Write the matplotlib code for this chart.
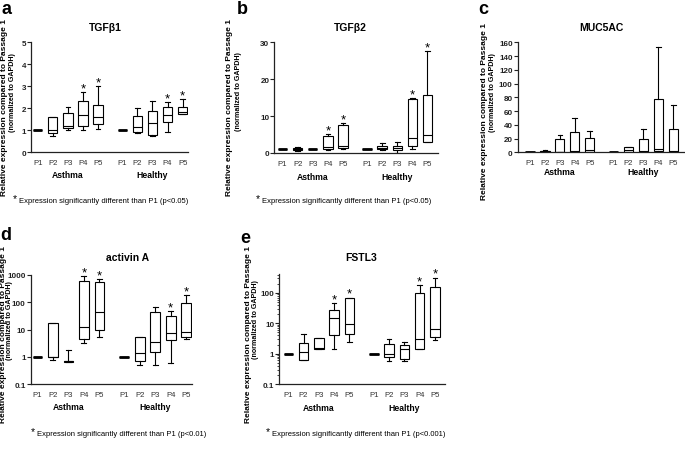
import matplotlib
matplotlib.use("Agg")
import matplotlib.pyplot as plt
from matplotlib.transforms import blended_transform_factory
from matplotlib.ticker import FixedLocator, NullFormatter, LogLocator

plt.rcParams['font.family'] = ['Liberation Sans', 'DejaVu Sans']

W, H = 685, 452

passages = ['P1', 'P2', 'P3', 'P4', 'P5']
groups = ['Asthma', 'Healthy']

# every box: [min, q1, median, q3, max], relative to passage 1
tgfb1_asthma = [[1, 1, 1, 1, 1], [0.72, 0.9, 1.02, 1.62, 1.62], [1.0, 1.09, 1.21, 1.79, 2.08],
                [1.03, 1.21, 1.70, 2.32, 2.73], [1.06, 1.29, 1.59, 2.15, 3.0]]
tgfb1_healthy = [[1, 1, 1, 1, 1], [0.9, 0.91, 1.15, 1.65, 2.0], [0.73, 0.8, 1.33, 1.89, 2.35],
                 [0.94, 1.39, 1.71, 2.08, 2.3], [1.72, 1.74, 1.85, 2.08, 2.41]]

tgfb2_asthma = [[1, 1, 1, 1, 1], [0.5, 0.8, 1.0, 1.3, 1.7], [1, 1, 1, 1, 1],
                [0.7, 1.0, 1.7, 4.7, 5.2], [1.2, 1.35, 1.9, 7.5, 8.0]]
tgfb2_healthy = [[1, 1, 1, 1, 1], [0.8, 1.0, 1.4, 1.9, 2.7], [0.1, 0.8, 1.3, 1.8, 3.05],
                 [1.0, 1.8, 4.1, 14.7, 14.8], [2.9, 3.05, 4.9, 15.7, 27.7]]

muc5ac_asthma = [[1, 1, 1, 1, 1], [0.5, 0.8, 1.2, 2.0, 3.5], [0.2, 0.5, 1.0, 19.4, 25.2],
                 [0.3, 0.5, 1.5, 29.0, 49.5], [0.5, 1.0, 3.9, 20.8, 30.5]]
muc5ac_healthy = [[1, 1, 1, 1, 1], [0.5, 1.0, 3.0, 8.0, 8.2], [0.3, 1.0, 2.0, 19.9, 34.4],
                  [0.5, 1.5, 5.5, 77.6, 152.7], [0.2, 0.5, 1.5, 33.9, 68.8]]

activin_asthma = [[1, 1, 1, 1, 1], [0.75, 0.95, 1.0, 17.5, 17.5], [0.64, 0.66, 0.68, 0.71, 1.75],
                  [3.07, 4.3, 12.2, 603, 946], [5.5, 9.5, 43, 555, 735]]
activin_healthy = [[1, 1, 1, 1, 1], [0.48, 0.71, 1.36, 5.4, 5.4], [0.51, 1.44, 3.5, 44, 69],
                   [0.57, 3.96, 7.5, 30, 48], [4.5, 5.1, 7.8, 96, 189]]

fstl3_asthma = [[1, 1, 1, 1, 1], [0.63, 0.63, 1.16, 2.3, 4.45], [1.4, 1.42, 1.48, 3.35, 3.4],
                [1.46, 4.1, 14.6, 26.8, 46.9], [2.4, 4.45, 9.5, 70, 70]]
fstl3_healthy = [[1, 1, 1, 1, 1], [0.56, 0.8, 0.95, 2.08, 3.05], [0.59, 0.68, 1.46, 1.98, 2.49],
                 [1.42, 1.46, 3.1, 97.5, 183], [2.75, 3.6, 6.3, 158, 320]]

# boxes marked with * (index into the 10 boxes, asthma first)
starred = [3, 4, 8, 9]

footnotes = ['Expression significantly different than P1 (p<0.05)',
             'Expression significantly different than P1 (p<0.05)',
             'Expression significantly different than P1 (p<0.01)',
             'Expression significantly different than P1 (p<0.001)']

fig = plt.figure(figsize=(W / 100, H / 100), dpi=100)


def fx(x):
    return x / W


def fy(y):
    return 1 - y / H


def rect(l, t, r, b):
    return [fx(l), fy(b), (r - l) / W, (b - t) / H]


def panel(box, xlim, asthma, healthy, stars, ylim, yticks, yticklabels, title, title_xy,
          label_y, log=False, minor=False):
    ax = fig.add_axes(box)
    pos = [0, 1, 2, 3, 4, 5.6, 6.6, 7.6, 8.6, 9.6]
    stats = [dict(whislo=s[0], q1=s[1], med=s[2], q3=s[3], whishi=s[4]) for s in asthma + healthy]
    lw = 0.8
    art = ax.bxp(stats, positions=pos, widths=0.62, showfliers=False, patch_artist=True,
                 boxprops=dict(facecolor='white', edgecolor='black', linewidth=lw),
                 medianprops=dict(color='black', linewidth=lw),
                 whiskerprops=dict(color='black', linewidth=lw),
                 capprops=dict(color='black', linewidth=lw))
    for i, s in enumerate(stats):
        if s['q1'] == s['q3']:
            art['medians'][i].set_linewidth(2.0)
    if log:
        ax.set_yscale('log')
    ax.set_ylim(*ylim)
    ax.set_xlim(*xlim)
    ax.set_yticks(yticks)
    ax.set_yticklabels(yticklabels, fontsize=5.8, fontweight='bold')
    if log:
        if minor:
            ax.yaxis.set_minor_locator(LogLocator(base=10, subs=range(2, 10)))
        else:
            ax.yaxis.set_minor_locator(FixedLocator([]))
        ax.yaxis.set_minor_formatter(NullFormatter())
    ax.tick_params(axis='y', which='major', length=2.6, width=0.8, pad=1, colors='#222222')
    ax.tick_params(axis='y', which='minor', length=1.6, width=0.6, colors='#222222')
    ax.set_xticks(pos)
    ax.set_xticklabels(passages * 2, fontsize=5.6, color='#333333')
    ax.xaxis.set_minor_locator(FixedLocator([2, 7.6]))
    ax.tick_params(axis='x', which='major', length=0, pad=5)
    ax.tick_params(axis='x', which='minor', length=3, width=0.8, colors='#222222')
    for sp in ['top', 'right']:
        ax.spines[sp].set_visible(False)
    for sp in ['left', 'bottom']:
        ax.spines[sp].set_linewidth(0.9)
        ax.spines[sp].set_color('#222222')
    for i in stars:
        ax.annotate('*', (pos[i], stats[i]['whishi']), xytext=(0, 0.5), textcoords='offset points',
                    ha='center', va='baseline', fontsize=9.5, annotation_clip=False)
    tr = blended_transform_factory(ax.transData, fig.transFigure)
    ax.text(2, fy(label_y), groups[0], transform=tr, ha='center', va='center',
            fontsize=6.2, fontweight='bold')
    ax.text(7.6, fy(label_y), groups[1], transform=tr, ha='center', va='center',
            fontsize=6.2, fontweight='bold')
    fig.text(fx(title_xy[0]), fy(title_xy[1]), title, ha='center', va='center',
             fontsize=7.5, fontweight='bold')
    return ax


panel(rect(31, 43.3, 188, 153.3), (-0.44, 9.95), tgfb1_asthma, tgfb1_healthy, starred, (0, 5),
      [0, 1, 2, 3, 4, 5], ['0', '1', '2', '3', '4', '5'], 'TGFβ1', (105, 28), 176)
panel(rect(274.3, 43.3, 438, 154), (-0.55, 10.3), tgfb2_asthma, tgfb2_healthy, starred, (0, 30),
      [0, 10, 20, 30], ['0', '10', '20', '30'], 'TGFβ2', (350, 28), 177)
panel(rect(517.7, 43.3, 685, 153.3), (-0.82, 10.38), muc5ac_asthma, muc5ac_healthy, [], (0, 160),
      list(range(0, 161, 20)), [str(v) for v in range(0, 161, 20)], 'MUC5AC', (601, 28), 173)
panel(rect(30.7, 276, 191.7, 385), (-0.43, 9.95), activin_asthma, activin_healthy, starred,
      (0.1, 1000), [0.1, 1, 10, 100, 1000], ['0.1', '1', '10', '100', '1000'], 'activin A',
      (128, 258), 407.7, log=True)
panel(rect(279.3, 275, 445, 385), (-0.59, 10.26), fstl3_asthma, fstl3_healthy, starred,
      (0.1, 420), [0.1, 1, 10, 100], ['0.1', '1', '10', '100'], 'FSTL3', (361, 258), 409,
      log=True, minor=True)

# panel letters
for letter, x, y in [('a', 2, 14), ('b', 237, 14), ('c', 478, 14), ('d', 0, 240), ('e', 240, 243)]:
    fig.text(fx(x), fy(y), letter, ha='left', va='baseline', fontsize=13, fontweight='bold')

# y labels
for x1, y1, x2, y2 in [(5, 108, 12.5, 93), (230, 107, 238, 92), (484, 111, 492, 93),
                       (3.5, 335, 10, 321), (248, 335, 255.5, 320)]:
    fig.text(fx(x1), fy(y1), 'Relative expression compared to Passage 1', rotation=90,
             ha='center', va='center', fontsize=6, fontweight='bold')
    fig.text(fx(x2), fy(y2), '(normalized to GAPDH)', rotation=90,
             ha='center', va='center', fontsize=5.1, fontweight='bold')

# footnotes
for note, xs, y in zip(footnotes, [15, 258, 33, 268], [202, 202, 435, 435]):
    fig.text(fx(xs), fy(y - 2.5), '*', ha='center', va='center', fontsize=7.5)
    fig.text(fx(xs + 4), fy(y), note, ha='left', va='center', fontsize=5.5)

fig.savefig('out.png', dpi=100)
